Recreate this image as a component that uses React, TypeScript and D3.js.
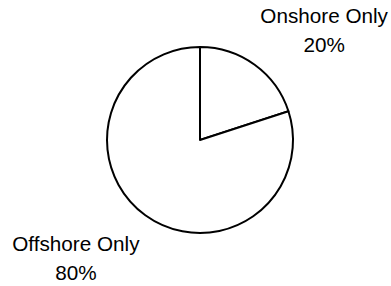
import * as d3 from 'd3';

const categories = ['Onshore Only', 'Offshore Only'];
const values = [20, 80];
const percentLabels = ['20%', '80%'];

const W = 391;
const H = 286;

export default function App() {
    const cx = 200;
    const cy = 140;
    const radius = 93;
    const labelRadius = 104;
    const fontSize = 20.7;
    const lineGap = 29;

    const pie = d3.pie<number>().sort(null).value(d => d);
    const slices = pie(values);
    const arc = d3.arc<d3.PieArcDatum<number>>().innerRadius(0).outerRadius(radius);

    return (
        <div style={{ position: 'absolute', left: 0, top: 0 }}>
            <svg width={W} height={H} style={{ display: 'block', background: '#fff' }}>
                <g transform={`translate(${cx},${cy})`}>
                    {slices.map((s, i) => (
                        <path key={i} d={arc(s) || ''} fill="#fff" stroke="#000" strokeWidth={2} strokeLinejoin="round" />
                    ))}
                    {slices.map((s, i) => {
                        const mid = (s.startAngle + s.endAngle) / 2;
                        const ax = Math.sin(mid) * labelRadius;
                        const ay = -Math.cos(mid) * labelRadius;
                        const x = ax + (ax >= 0 ? 63 : -63);
                        // labels above the centre sit on top of the anchor, below it hang from it
                        const y1 = ay < 0 ? ay - 3.4 - lineGap : ay + 26.4;
                        return (
                            <text key={'l' + i} x={x} y={y1} textAnchor="middle"
                                fontFamily="'Liberation Sans', Arial, sans-serif" fontSize={fontSize} fill="#000">
                                <tspan x={x}>{categories[i]}</tspan>
                                <tspan x={x} dy={lineGap}>{percentLabels[i]}</tspan>
                            </text>
                        );
                    })}
                </g>
            </svg>
        </div>
    );
}
